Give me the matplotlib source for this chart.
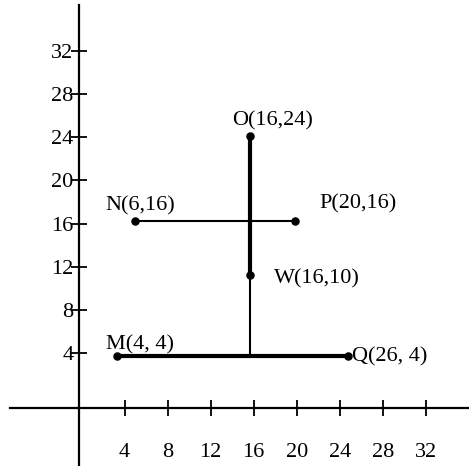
import matplotlib
matplotlib.use('Agg')
from matplotlib import pyplot as plt

# points as drawn (the picture is not exactly to scale)
names = ['M', 'N', 'O', 'P', 'Q', 'W']
texts = ['M(4, 4)', 'N(6,16)', 'O(16,24)', 'P(20,16)', 'Q(26, 4)', 'W(16,10)']
px = [3.3, 5.0, 15.7, 19.8, 24.8, 15.7]
py = [3.7, 16.2, 24.1, 16.2, 3.7, 11.2]

xticks = [4, 8, 12, 16, 20, 24, 28, 32]
yticks = [4, 8, 12, 16, 20, 24, 28, 32]

pt = dict(zip(names, zip(px, py)))

fig = plt.figure(figsize=(4.69, 4.66), dpi=100)
ax = fig.add_axes([0, 0, 1, 1])
ax.set_xlim(-7.57, 36.0)
ax.set_ylim(-6.43, 36.68)
plt.rcParams['font.family'] = 'Liberation Serif'
fs = 16

# axes through the origin
for s in ['top', 'right']:
	ax.spines[s].set_visible(False)
ax.spines['left'].set_position(('data', -0.23))
ax.spines['bottom'].set_position(('data', -1.06))
ax.spines['left'].set_bounds(-6.43, 36.2)
ax.spines['bottom'].set_bounds(-6.65, 36.0)
ax.spines['left'].set_linewidth(1.6)
ax.spines['bottom'].set_linewidth(1.6)

ax.set_xticks(xticks)
ax.set_yticks(yticks)
ax.set_xticklabels([str(v) for v in xticks], family='Liberation Serif', fontsize=fs)
ax.set_yticklabels([str(v) for v in yticks], family='Liberation Serif', fontsize=fs)
ax.tick_params(axis='x', direction='inout', length=11, width=1.3, pad=20)
ax.tick_params(axis='y', direction='inout', length=12, width=1.3, pad=-2)

# segments
M, N, O, P, Q, W = (pt[k] for k in names)
ax.plot([M[0], Q[0]], [M[1], Q[1]], c='black', lw=3)
ax.plot([O[0], W[0]], [O[1], W[1]], c='black', lw=3)
ax.plot([N[0], P[0]], [N[1], P[1]], c='black', lw=1.5)
ax.plot([W[0], W[0]], [W[1], M[1]], c='black', lw=1.5)
ax.scatter(px, py, s=26, c='black', zorder=3)

# labels
offs = {'M': (-11, 2, 'bottom'), 'N': (-30, 6, 'bottom'), 'O': (-18, 5, 'bottom'),
	'P': (25, 8, 'bottom'), 'Q': (4, 0, 'center'), 'W': (23, -3, 'center')}
for n, t, x, y in zip(names, texts, px, py):
	dx, dy, va = offs[n]
	ax.annotate(t, (x, y), xytext=(dx, dy), textcoords='offset pixels',
		ha='left', va=va, fontsize=fs, family='Liberation Serif')

fig.savefig('out.png', dpi=100)
